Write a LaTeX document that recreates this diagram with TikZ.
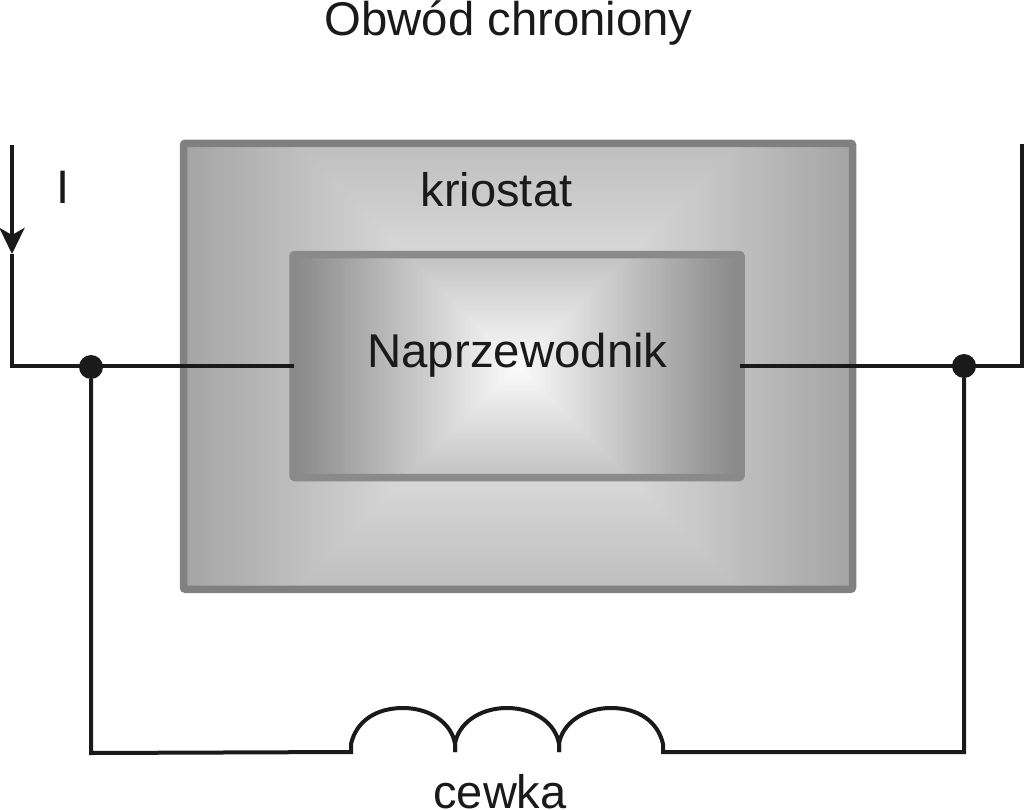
\documentclass[tikz,border=0pt]{standalone}
\usepackage{fontspec}
\setmainfont{Liberation Sans}
\usetikzlibrary{arrows.meta}
\definecolor{ink}{HTML}{1A1A1A}
\tikzset{
  wire/.style={draw=ink,line width=4pt,line join=miter},
  dotnode/.style={circle,fill=ink,inner sep=0pt,outer sep=0pt,minimum size=24pt},
  krio/.style={draw=black!50,line width=7.5pt,rounded corners=2pt,inner sep=0pt,outer sep=0pt,minimum width=669pt,minimum height=446pt},
  nadp/.style={draw=black!46,line width=7.5pt,rounded corners=2pt,inner sep=0pt,outer sep=0pt,minimum width=448pt,minimum height=223pt},
  lab/.style={text=ink,inner sep=0pt,anchor=base}
}
\begin{document}
\begin{tikzpicture}[x=1pt,y=-1pt]
\useasboundingbox (0,0) rectangle (1024,810);
% cryostat gradient: concentric square contours
\begin{scope}
  \clip (183,143) rectangle (853,590);
  \foreach \r in {336,332,...,4}{
    \pgfmathsetmacro{\g}{100*(0.95-0.30*\r/330)}
    \fill[fill=white!\g!black] (518-\r,366-\r) rectangle (518+\r,366+\r);
  }
\end{scope}
\node[krio] (kriostat) at (518,366.3) {};
% superconductor gradient
\begin{scope}
  \clip (293,255) rectangle (741,478);
  \foreach \r in {232,229,...,1}{
    \pgfmathsetmacro{\g}{100*(0.99-0.46*\r/227)}
    \fill[fill=white!\g!black] (517-\r,366-\r) rectangle (517+\r,366+\r);
  }
\end{scope}
\node[nadp] (nadp) at (517,366) {};
% labels
\node[lab,font=\fontsize{47.3}{47.3}\selectfont] (tytul) at (508.5,36) {Obwód chroniony};
\node[lab,font=\fontsize{47}{47}\selectfont] (I) at (63,204) {I};
\node[lab,font=\fontsize{47}{47}\selectfont] (krioL) at (496.5,207) {kriostat};
\node[lab,font=\fontsize{47.4}{47.4}\selectfont] (naprz) at (517.5,367) {Naprzewodnik};
\node[lab,font=\fontsize{47}{47}\selectfont] (cewka) at (500,808) {cewka};
% circuit
\coordinate (lt) at (12,145);
\coordinate (la) at (12,254);
\coordinate (lc) at (12,366);
\coordinate (rt) at (1021.5,144);
\coordinate (rc) at (1021.5,366);
\coordinate (bl) at (91,753);
\coordinate (br) at (964,752);
\coordinate (c0) at (351,752);
\coordinate (c1) at (455,752);
\coordinate (c2) at (559,752);
\coordinate (c3) at (663,752);
\coordinate (t1) at (403,708);
\coordinate (t2) at (507,708);
\coordinate (t3) at (611,708);
\node[dotnode] (jl) at (91,367) {};
\node[dotnode] (jr) at (964,366) {};
\draw[wire,-{Stealth[length=26pt,width=25pt,inset=7pt]}] (lt) -- (la);
\draw[wire] (la) -- (lc) -- ([xshift=1pt]nadp.west);
\draw[wire] (rt) -- (rc) -- ([xshift=-1pt]nadp.east);
\draw[wire] (jl) -- (bl) -- (c0) -- ([yshift=8pt]c0) .. controls +(5,-22) and +(-28,0) .. (t1)
  .. controls +(28,0) and +(-3,-20) .. ([yshift=8pt]c1) -- (c1);
\draw[wire] (c1) -- ([yshift=8pt]c1) .. controls +(3,-20) and +(-28,0) .. (t2)
  .. controls +(28,0) and +(-3,-20) .. ([yshift=8pt]c2) -- (c2);
\draw[wire] (c2) -- ([yshift=8pt]c2) .. controls +(3,-20) and +(-28,0) .. (t3)
  .. controls +(28,0) and +(-5,-22) .. ([yshift=8pt]c3) -- (c3) -- (br) -- (jr);
\end{tikzpicture}
\end{document}
